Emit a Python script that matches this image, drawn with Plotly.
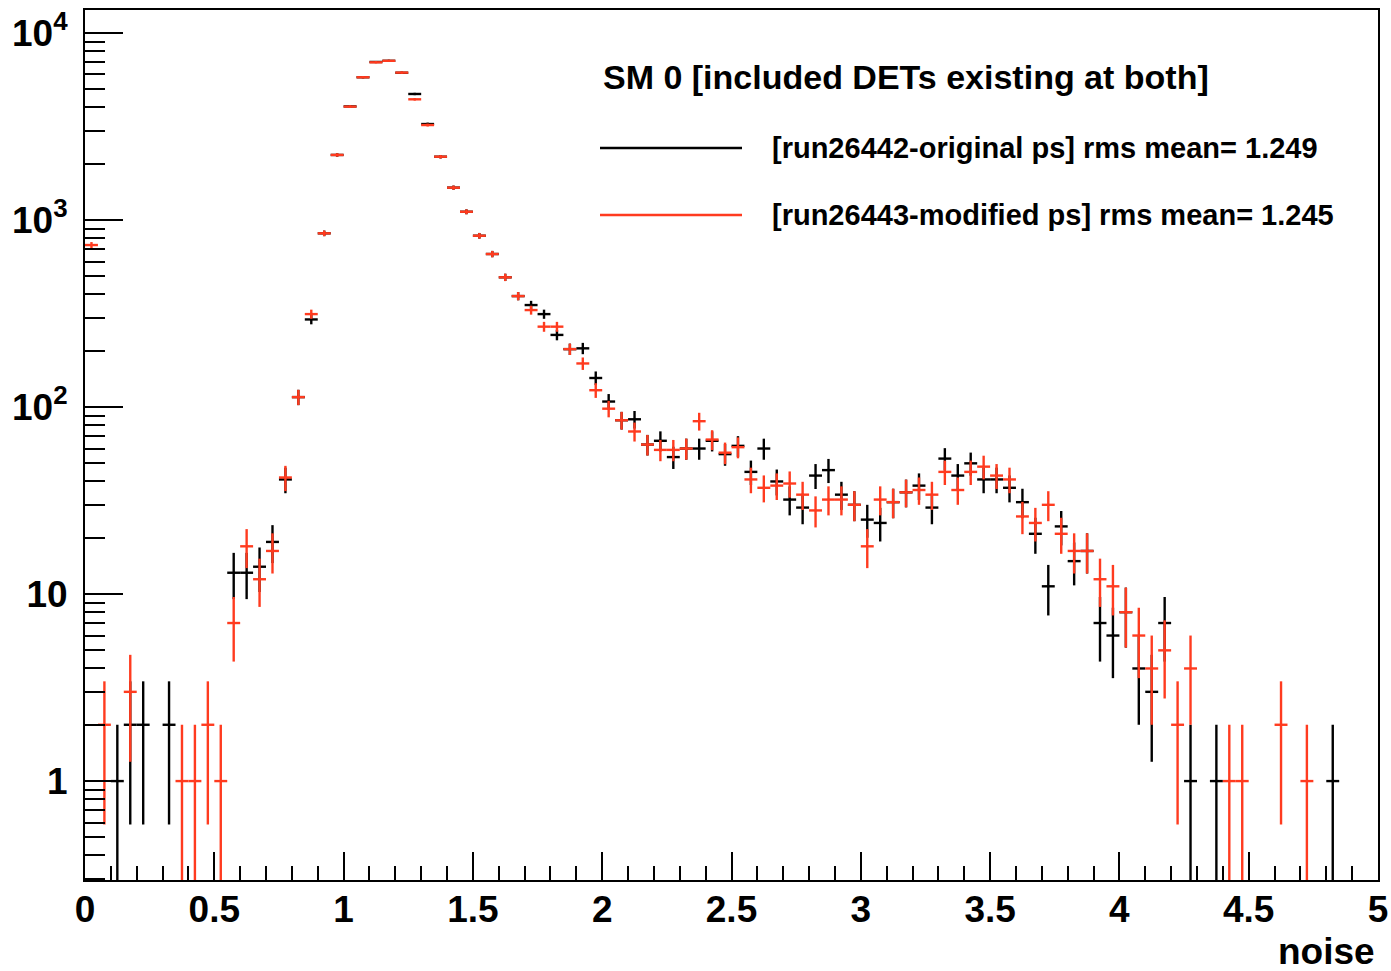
import numpy as np
import plotly.graph_objects as go

# ---------------- data ----------------
x_min, x_max, n_bins = 0.0, 5.0, 100
bin_edges = np.linspace(x_min, x_max, n_bins + 1)
bin_centers = 0.5 * (bin_edges[:-1] + bin_edges[1:])

counts_original = [
    None, None, 1, 2, 2, None, 2, None, None, None,
    None, 13, 13, 14, 19, 41, 113, 294, 849, 2228,
    4050, 5800, 7000, 7100, 6130, 4720, 3260, 2180, 1490, 1107,
    824, 658, 494, 392, 351, 314, 243, 204, 206, 143,
    107, 85, 86, 63, 66, 54, 60, 60, 66, 56,
    62, 45, 60, 40, 32, 29, 43, 46, 34, 30,
    25, 24, 31, 35, 38, 29, 53, 43, 50, 41,
    41, 37, 31, 21, 11, 23, 15, 17, 7, 6,
    8, 4, 3, 7, None, 1, None, 1, None, None,
    None, None, None, None, None, None, 1, None, None, None,
]

counts_modified = [
    735, 2, None, 3, None, None, None, 1, 1, 2,
    1, 7, 18, 12, 17, 42, 113, 314, 849, 2228,
    4040, 5800, 6970, 7100, 6140, 4420, 3220, 2180, 1489, 1107,
    824, 658, 494, 392, 330, 269, 269, 204, 171, 123,
    98, 85, 74, 63, 59, 59, 60, 84, 67, 57,
    61, 41, 37, 38, 39, 34, 28, 32, 32, 30,
    18, 32, 31, 35, 36, 34, 45, 36, 45, 48,
    43, 41, 26, 24, 30, 21, 17, 17, 12, 11,
    8, 6, 4, 5, 2, 4, None, None, 1, 1,
    None, None, 2, None, 1, None, None, None, None, None,
]

legend_title = "SM 0 [included DETs existing at both]"
label_original = "[run26442-original ps] rms mean= 1.249"
label_modified = "[run26443-modified ps] rms mean= 1.245"
x_title = "noise"

y_tickvals = [1, 10, 100, 1000, 10000]
y_ticktext = ["1", "10", "10<sup>2</sup>", "10<sup>3</sup>", "10<sup>4</sup>"]
x_tickvals = [0, 0.5, 1, 1.5, 2, 2.5, 3, 3.5, 4, 4.5, 5]
x_ticktext = ["0", "0.5", "1", "1.5", "2", "2.5", "3", "3.5", "4", "4.5", "5"]

# ---------------- styling ----------------
BLACK = "#000000"
RED = "#ff3b1f"
FONT = "Liberation Sans, Arial, Helvetica, sans-serif"
half_bin = (x_max - x_min) / n_bins / 2


def hist_trace(counts, color, name):
    xs, ys, es = [], [], []
    for xc, c in zip(bin_centers, counts):
        if c is None:
            continue
        xs.append(float(xc))
        ys.append(c)
        es.append(float(np.sqrt(c)))
    return go.Scatter(
        x=xs, y=ys, mode="markers", name=name,
        marker=dict(size=2, color=color),
        error_x=dict(type="constant", value=half_bin, width=0, thickness=2.4, color=color),
        error_y=dict(type="data", array=es, symmetric=True, width=0, thickness=2.4, color=color),
        showlegend=False, hoverinfo="x+y",
    )


fig = go.Figure()
fig.add_trace(hist_trace(counts_original, BLACK, label_original))
fig.add_trace(hist_trace(counts_modified, RED, label_modified))

# page geometry (body margin removed by post_script)
W, H = 1391, 971
plot_l, plot_r, plot_t, plot_b = 85, 1378, 10, 880  # pixels of the plot frame


def px(xp):
    return (xp - plot_l) / (plot_r - plot_l)


def py(yp):
    return (plot_b - yp) / (plot_b - plot_t)


y_minor = [m * 10 ** e for e in range(-1, 4) for m in range(2, 10)]

fig.update_layout(
    width=W, height=H,
    margin=dict(l=plot_l, r=W - plot_r, t=plot_t, b=H - plot_b, autoexpand=False),
    paper_bgcolor="white", plot_bgcolor="white",
    font=dict(family=FONT, color="black"),
    xaxis=dict(
        range=[x_min, x_max], showgrid=False, zeroline=False, automargin=False,
        showline=True, linecolor="black", linewidth=2, mirror=True,
        ticks="inside", ticklen=28, tickwidth=2, tickcolor="black",
        tickmode="array", tickvals=x_tickvals, ticktext=x_ticktext,
        tickfont=dict(size=37, family=FONT, weight="bold"),
        ticklabeloverflow="allow", ticklabelstandoff=-4,
        minor=dict(ticks="inside", ticklen=14, tickwidth=2, tickcolor="black",
                   dtick=0.1, tick0=0, showgrid=False),
    ),
    yaxis=dict(
        type="log", range=[-0.529, 4.123], showgrid=False, zeroline=False, automargin=False,
        showline=True, linecolor="black", linewidth=2, mirror=True,
        ticks="inside", ticklen=38, tickwidth=2, tickcolor="black",
        tickmode="array", tickvals=y_tickvals, ticktext=y_ticktext,
        tickfont=dict(size=37, family=FONT, weight="bold"),
        ticklabelstandoff=8, ticklabeloverflow="allow",
        minor=dict(ticks="inside", ticklen=20, tickwidth=2, tickcolor="black",
                   tickmode="array", tickvals=y_minor, showgrid=False),
    ),
)

# legend drawn manually (ROOT-style long line samples)
fig.add_annotation(text=legend_title, xref="paper", yref="paper",
                   x=px(601), y=py(77), xanchor="left", yanchor="middle", showarrow=False,
                   font=dict(size=34, family=FONT, weight="bold", color="black"))
for label, color, ypix in [(label_original, BLACK, 148), (label_modified, RED, 215)]:
    fig.add_shape(type="line", xref="paper", yref="paper",
                  x0=px(600), x1=px(742), y0=py(ypix), y1=py(ypix),
                  line=dict(color=color, width=2.4))
    fig.add_annotation(text=label, xref="paper", yref="paper",
                       x=px(770), y=py(ypix), xanchor="left", yanchor="middle", showarrow=False,
                       font=dict(size=29, family=FONT, weight="bold", color="black"))

fig.add_annotation(text=x_title, xref="paper", yref="paper",
                   x=px(1377), y=py(951), xanchor="right", yanchor="middle", showarrow=False,
                   font=dict(size=37, family=FONT, weight="bold", color="black"))

fig.write_html("out.html",
               config={"displayModeBar": False},
               post_script="document.body.style.margin='0';document.body.style.overflow='hidden';")
